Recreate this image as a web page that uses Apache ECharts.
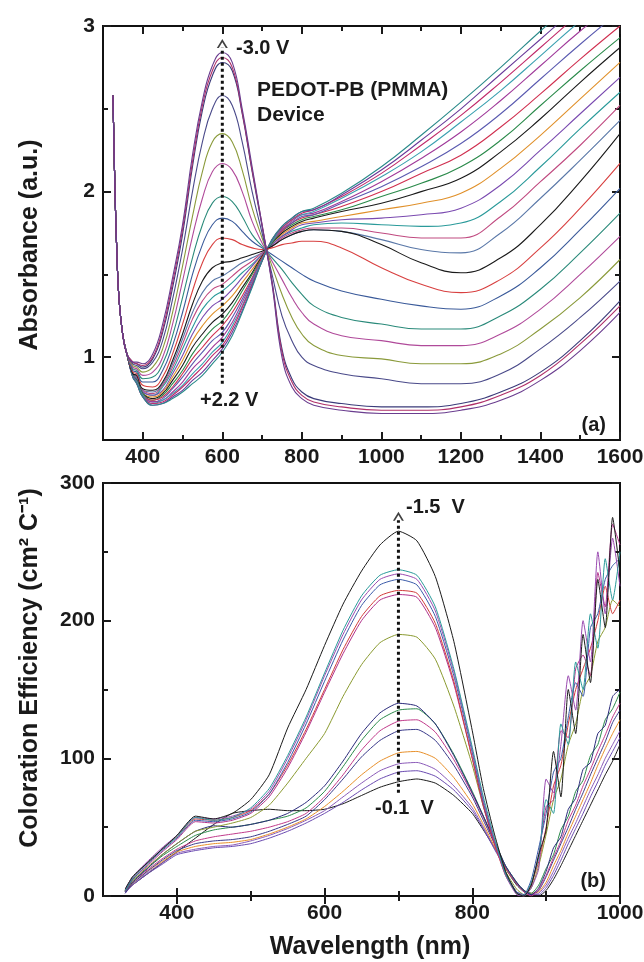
<!DOCTYPE html>
<html><head><meta charset="utf-8">
<script src="https://cdn.jsdelivr.net/npm/echarts@6.0.0/dist/echarts.min.js"></script>
<style>html,body{margin:0;padding:0;background:#fff}#c{width:644px;height:962px}</style>
</head><body><div id="c"></div>
<script>
// ---------- (a) Absorbance ----------
const WL_TOP_HEAD = [325, 330, 335, 340, 350, 360];
const ABS_HEAD = [2.58, 2.02, 1.62, 1.36, 1.13, 1.02];
const WL_TOP = [375, 385, 400, 425, 450, 475, 500, 525, 550, 575, 600, 625, 650, 675, 700, 725, 750, 775, 800, 830, 900, 1000, 1100, 1200, 1300, 1400, 1500, 1600];
const ABS_A1 = [0.97,0.97,0.96,1.02,1.20,1.48,1.80,2.22,2.55,2.76,2.84,2.78,2.50,2.15,1.80,1.44,1.00,0.82,0.75,0.71,0.68,0.66,0.66,0.68,0.74,0.86,1.04,1.27];
const ABS_A2 = [0.97,0.96,0.95,1.00,1.17,1.45,1.77,2.18,2.52,2.73,2.81,2.75,2.48,2.13,1.80,1.45,1.03,0.85,0.77,0.73,0.70,0.68,0.68,0.70,0.77,0.89,1.08,1.31];
const ABS_A3 = [0.97,0.96,0.94,0.99,1.15,1.42,1.74,2.15,2.49,2.70,2.78,2.73,2.47,2.12,1.79,1.46,1.05,0.87,0.79,0.75,0.72,0.70,0.70,0.72,0.79,0.91,1.10,1.34];
const ABS_B1 = [0.96,0.95,0.93,0.97,1.10,1.35,1.65,2.00,2.30,2.50,2.58,2.52,2.30,2.00,1.75,1.50,1.25,1.10,1.00,0.95,0.90,0.87,0.84,0.84,0.90,1.05,1.24,1.46];
const ABS_B2 = [0.95,0.94,0.91,0.94,1.05,1.27,1.55,1.85,2.12,2.30,2.35,2.30,2.13,1.90,1.72,1.55,1.38,1.24,1.14,1.07,1.01,0.99,0.96,0.96,1.02,1.17,1.36,1.59];
const ABS_B3 = [0.94,0.93,0.89,0.91,1.00,1.20,1.46,1.73,1.96,2.12,2.17,2.13,2.00,1.82,1.69,1.58,1.47,1.36,1.27,1.20,1.13,1.10,1.07,1.07,1.14,1.29,1.50,1.73];
const ABS_B4 = [0.93,0.92,0.87,0.88,0.96,1.13,1.36,1.60,1.80,1.93,1.97,1.94,1.85,1.74,1.67,1.60,1.53,1.45,1.38,1.31,1.24,1.20,1.17,1.17,1.25,1.41,1.63,1.87];
const ABS_B5 = [0.92,0.91,0.85,0.85,0.92,1.07,1.27,1.50,1.68,1.80,1.84,1.82,1.76,1.70,1.66,1.62,1.58,1.54,1.50,1.46,1.40,1.35,1.31,1.29,1.37,1.54,1.77,2.02];
const ABS_B6 = [0.91,0.90,0.83,0.82,0.88,1.02,1.20,1.40,1.57,1.68,1.72,1.71,1.68,1.66,1.65,1.66,1.68,1.69,1.70,1.70,1.66,1.54,1.44,1.39,1.47,1.66,1.90,2.17];
const ABS_B7 = [0.90,0.89,0.81,0.80,0.85,0.98,1.14,1.32,1.46,1.54,1.57,1.58,1.60,1.62,1.64,1.67,1.71,1.74,1.76,1.77,1.76,1.68,1.57,1.51,1.60,1.80,2.06,2.35];
const ABS_C1 = [0.90,0.88,0.80,0.79,0.84,0.96,1.11,1.27,1.39,1.46,1.49,1.53,1.57,1.60,1.63,1.67,1.71,1.74,1.76,1.77,1.76,1.71,1.65,1.63,1.75,1.96,2.19,2.43];
const ABS_C2 = [0.90,0.88,0.80,0.78,0.83,0.94,1.08,1.23,1.34,1.41,1.44,1.49,1.54,1.58,1.63,1.67,1.72,1.75,1.77,1.78,1.78,1.75,1.72,1.72,1.85,2.06,2.28,2.52];
const ABS_C3 = [0.90,0.87,0.79,0.77,0.82,0.92,1.05,1.18,1.29,1.36,1.40,1.45,1.51,1.56,1.62,1.68,1.73,1.76,1.78,1.80,1.81,1.80,1.79,1.81,1.94,2.15,2.38,2.60];
const ABS_C4 = [0.89,0.87,0.79,0.77,0.80,0.90,1.01,1.14,1.24,1.31,1.35,1.41,1.48,1.55,1.62,1.68,1.73,1.77,1.80,1.81,1.83,1.84,1.86,1.90,2.04,2.25,2.47,2.69];
const ABS_C5 = [0.89,0.86,0.78,0.76,0.79,0.88,0.98,1.10,1.19,1.26,1.31,1.37,1.45,1.53,1.61,1.69,1.74,1.78,1.81,1.82,1.85,1.89,1.93,1.99,2.14,2.34,2.56,2.78];
const ABS_C6 = [0.89,0.86,0.78,0.75,0.78,0.86,0.95,1.06,1.14,1.21,1.26,1.33,1.42,1.51,1.61,1.69,1.75,1.79,1.82,1.84,1.88,1.93,2.00,2.08,2.24,2.44,2.66,2.87];
const ABS_C7 = [0.89,0.86,0.78,0.74,0.77,0.84,0.92,1.02,1.10,1.17,1.22,1.30,1.40,1.50,1.60,1.69,1.76,1.80,1.83,1.85,1.89,1.97,2.05,2.15,2.31,2.52,2.73,2.93];
const ABS_C8 = [0.89,0.85,0.77,0.74,0.76,0.82,0.90,0.99,1.06,1.13,1.19,1.27,1.37,1.48,1.60,1.70,1.76,1.81,1.84,1.86,1.91,2.00,2.11,2.22,2.39,2.59,2.80,3.00];
const ABS_C9 = [0.89,0.85,0.77,0.73,0.75,0.81,0.88,0.96,1.03,1.10,1.15,1.24,1.35,1.47,1.59,1.70,1.77,1.81,1.85,1.86,1.93,2.03,2.15,2.29,2.47,2.68,2.89,3.09];
const ABS_C10 = [0.88,0.85,0.77,0.73,0.74,0.79,0.85,0.93,0.99,1.06,1.12,1.21,1.33,1.46,1.59,1.70,1.77,1.82,1.86,1.87,1.94,2.06,2.20,2.36,2.55,2.76,2.97,3.16];
const ABS_C11 = [0.88,0.85,0.77,0.72,0.74,0.78,0.83,0.90,0.96,1.03,1.09,1.19,1.31,1.45,1.59,1.70,1.78,1.83,1.86,1.88,1.96,2.09,2.24,2.42,2.61,2.82,3.03,3.22];
const ABS_C12 = [0.88,0.84,0.76,0.72,0.73,0.77,0.82,0.88,0.94,1.01,1.07,1.17,1.30,1.44,1.58,1.71,1.78,1.83,1.87,1.89,1.97,2.11,2.28,2.46,2.66,2.87,3.08,3.28];
const ABS_C13 = [0.88,0.84,0.76,0.71,0.72,0.76,0.80,0.86,0.91,0.98,1.05,1.15,1.28,1.43,1.58,1.71,1.79,1.84,1.88,1.89,1.98,2.13,2.31,2.50,2.71,2.92,3.13,3.33];
const ABS_C14 = [0.88,0.84,0.76,0.71,0.72,0.75,0.79,0.84,0.89,0.96,1.03,1.13,1.27,1.42,1.58,1.71,1.79,1.84,1.88,1.90,1.99,2.15,2.34,2.54,2.75,2.97,3.18,3.38];

const TOP_X_MAJOR = [400, 600, 800, 1000, 1200, 1400, 1600];
const TOP_X_MINOR = [500, 700, 900, 1100, 1300, 1500];
const TOP_Y_MAJOR = [1, 2, 3];
const TOP_Y_MINOR = [1.5, 2.5];

// ---------- (b) Coloration efficiency ----------
const WL_CE = [330,340,360,380,400,425,450,475,500,525,550,575,600,625,650,675,700,725,750,775,800,815,830,845,860,870,880,890,900,910,920,930,940,950,960,970,980,990,1000];
const CE_K1 = [5,14,24,34,44,58,56,60,70,88,122,150,182,212,236,255,265,258,232,185,120,78,45,18,2,0,8,30,48,105,72,150,118,190,155,230,195,275,235];
const CE_K2 = [4,13,24,34,43,57,55,57,64,78,102,130,162,193,218,233,237,233,210,165,108,72,42,16,2,0,10,28,70,60,125,110,170,150,205,180,245,215,250];
const CE_K3 = [5,14,25,35,44,57,56,58,63,76,100,128,160,190,215,230,234,230,207,163,106,70,40,15,1,0,6,20,85,75,110,160,135,200,170,250,205,260,225];
const CE_K4 = [3,12,23,33,42,55,54,56,61,74,97,125,156,186,211,226,230,226,203,160,104,68,40,17,3,1,12,35,60,90,100,130,155,145,195,205,230,240,245];
const CE_K5 = [4,13,24,34,43,56,55,57,62,74,95,121,150,179,203,218,222,220,198,156,100,66,38,15,2,0,9,25,50,80,95,125,150,165,180,200,225,205,215];
const CE_K6 = [3,12,22,32,41,54,53,55,60,72,93,119,148,176,200,215,219,217,195,154,100,65,38,16,3,0,8,30,65,70,120,115,165,175,160,235,210,270,255];
const CE_K7 = [3,11,21,30,38,47,50,53,57,66,82,100,118,145,168,184,190,188,172,138,95,65,40,18,5,1,6,22,45,70,85,110,125,150,160,185,195,215,210];
const CE_K8 = [3,10,20,30,38,47,51,50,52,55,60,68,80,98,118,133,140,138,125,102,75,58,40,22,10,4,1,6,18,35,43,63,71,92,97,118,124,145,150];
const CE_K9 = [4,11,20,29,36,44,48,50,52,55,58,64,76,94,113,128,135,136,125,103,76,58,40,22,10,4,2,8,20,30,48,58,76,84,102,110,128,136,148];
const CE_K10 = [3,10,19,27,34,40,43,45,47,50,54,60,72,88,106,120,127,128,119,99,74,57,39,21,9,3,0,5,15,28,40,55,66,80,92,105,117,130,140];
const CE_K11 = [2,9,18,26,33,38,40,41,43,47,52,58,70,85,101,113,120,121,113,95,72,55,38,21,9,4,1,4,14,26,38,50,63,75,88,100,112,126,135];
const CE_K12 = [3,9,18,25,32,36,38,39,41,45,50,56,65,76,88,98,104,105,100,86,67,52,36,20,9,4,2,3,10,22,33,46,58,70,82,95,107,118,128];
const CE_K13 = [2,8,17,24,31,34,36,37,40,44,49,55,62,72,82,91,96,97,92,80,64,50,35,20,9,4,1,2,8,18,30,42,53,65,77,88,100,110,120];
const CE_K14 = [3,8,16,23,30,33,35,36,38,42,47,53,60,68,77,85,90,91,87,77,62,49,34,20,9,4,1,1,6,15,26,38,49,60,72,83,95,105,115];
const CE_K15 = [3,8,16,24,32,42,52,60,62,63,62,62,63,67,73,79,83,85,82,73,60,48,35,20,8,3,0,0,4,12,22,33,44,55,66,77,88,98,110];

const BOT_X_MAJOR = [400, 600, 800, 1000];
const BOT_X_MINOR = [500, 700, 900];
const BOT_Y_MAJOR = [0, 100, 200, 300];
const BOT_Y_MINOR = [50, 150, 250];

// annotation arrows (wavelength, from, to)
const ARROW_A = [600, 0.84, 2.87];
const ARROW_B = [700, 75, 273];

// ---------- styling ----------
const TOP_SET = [ABS_C1,ABS_C2,ABS_C3,ABS_C4,ABS_C5,ABS_C6,ABS_C7,ABS_C8,ABS_C9,ABS_C10,ABS_C11,ABS_C12,ABS_C13,ABS_C14,
                 ABS_B7,ABS_B6,ABS_B5,ABS_B4,ABS_B3,ABS_B2,ABS_B1,ABS_A3,ABS_A2,ABS_A1];
const TOP_COLORS = ['#5a78a8','#c04a80','#2a9a9a','#7a4ab0','#e0902a','#1a1a1a','#2a8a4a','#d03050','#5a5ab0','#a03a9a','#3aa0b0','#c02a6a','#6a3a9a','#2a8a8a',
                    '#1a1a1a','#d84040','#3a5a9a','#2a8a7a','#b04a9a','#8a9a3a','#4a4a8a','#3b3b7a','#b0306a','#6a3d8f'];
const BOT_SET = [CE_K15,CE_K14,CE_K13,CE_K12,CE_K11,CE_K10,CE_K9,CE_K8,CE_K7,CE_K6,CE_K5,CE_K4,CE_K3,CE_K2,CE_K1];
const BOT_COLORS = ['#1a1a1a','#6a4ab0','#8a5ab8','#e8902a','#3a3a8a','#c03a8a','#2a8a4a','#2a2a7a','#8a9a30','#b0308a','#d03a3a','#3a5aa8','#9a4ab0','#2a9a9a','#1a1a1a'];

const FF = '"Liberation Sans", Arial, Helvetica, sans-serif';
const INK = '#1a1a1a';

function axes(dim, g, min, max, majors, minors, posA, posB) {
  const base = {type:'value', gridIndex:g, min:min, max:max, axisLine:{show:false}, splitLine:{show:false}};
  const tick = (vals, len) => ({show:true, inside:true, length:len, customValues:vals, lineStyle:{color:INK, width:2}});
  const lbl = {show:true, customValues:majors, margin: dim==='x'?7:8, fontSize:21, fontWeight:'bold', fontFamily:FF, color:INK,
               formatter: v => String(v)};
  const off = {show:false};
  return [
    Object.assign({}, base, {position:posA, axisTick:tick(majors, 8), axisLabel:lbl}),
    Object.assign({}, base, {position:posA, axisTick:tick(minors, 5), axisLabel:off}),
    Object.assign({}, base, {position:posB, axisTick:tick(majors, 8), axisLabel:off}),
    Object.assign({}, base, {position:posB, axisTick:tick(minors, 5), axisLabel:off})
  ];
}

const series = [];
const topX = WL_TOP_HEAD.concat(WL_TOP);
TOP_SET.forEach((vals, i) => {
  const ys = ABS_HEAD.concat(vals);
  series.push({type:'line', xAxisIndex:0, yAxisIndex:0, data: topX.map((w, k) => [w, ys[k]]),
    symbol:'none', smooth:0.45, clip:true, silent:true,
    lineStyle:{color:TOP_COLORS[i], width:1.1}});
});
BOT_SET.forEach((vals, i) => {
  series.push({type:'line', xAxisIndex:4, yAxisIndex:4, data: WL_CE.map((w, k) => [w, vals[k]]),
    symbol:'none', smooth:0.18, clip:true, silent:true,
    lineStyle:{color:BOT_COLORS[i], width:1}});
});
// dotted guide lines with chevron heads
const chevron = 'path://M0,10 L5,0 L10,10 L8.2,10 L5,3.6 L1.8,10 Z';
[[ARROW_A, 0], [ARROW_B, 4]].forEach(([a, ax]) => {
  series.push({type:'line', xAxisIndex:ax, yAxisIndex:ax, data:[[a[0], a[1]], [a[0], a[2]]], symbol:'none', silent:true, z:5,
    lineStyle:{color:'#111', width:3, type:[3,3], cap:'butt'}});
  series.push({type:'scatter', xAxisIndex:ax, yAxisIndex:ax, data:[[a[0], a[2]]], symbol:chevron, symbolSize:[11,9], symbolOffset:[0,-4], silent:true, z:6,
    itemStyle:{color:'#111'}});
});

function txt(x, y, s, size, align, rot) {
  return {type:'text', x:x, y:y, rotation:rot||0, z:100,
    style:{text:s, font:'bold ' + size + 'px ' + FF, fill:INK, align:align||'left', verticalAlign:'middle'}};
}

const option = {
  animation:false,
  backgroundColor:'#ffffff',
  grid:[
    {left:103, top:26, width:517, height:414, show:true, borderColor:'#111', borderWidth:2, backgroundColor:'transparent', containLabel:false, outerBoundsMode:'none'},
    {left:103, top:483, width:517, height:413, show:true, borderColor:'#111', borderWidth:2, backgroundColor:'transparent', containLabel:false, outerBoundsMode:'none'}
  ],
  xAxis: axes('x', 0, 300, 1600, TOP_X_MAJOR, TOP_X_MINOR, 'bottom', 'top')
          .concat(axes('x', 1, 300, 1000, BOT_X_MAJOR, BOT_X_MINOR, 'bottom', 'top')),
  yAxis: axes('y', 0, 0.5, 3, TOP_Y_MAJOR, TOP_Y_MINOR, 'left', 'right')
          .concat(axes('y', 1, 0, 300, BOT_Y_MAJOR, BOT_Y_MINOR, 'left', 'right')),
  series: series,
  graphic: [
    txt(236, 48, '-3.0 V', 20),
    txt(257, 90, 'PEDOT-PB (PMMA)', 21),
    txt(257, 115, 'Device', 21),
    txt(200, 400, '+2.2 V', 20),
    txt(606, 425, '(a)', 20, 'right'),
    txt(406, 507, '-1.5  V', 20),
    txt(375, 808, '-0.1  V', 20),
    txt(606, 881, '(b)', 20, 'right'),
    txt(30, 245, 'Absorbance (a.u.)', 25, 'center', Math.PI/2),
    txt(30, 668, 'Coloration Efficiency (cm\u00b2 C\u207b\u00b9)', 25, 'center', Math.PI/2),
    txt(370, 947, 'Wavelength (nm)', 25, 'center')
  ]
};
const chart = echarts.init(document.getElementById('c'), null, {renderer:'canvas'});
chart.setOption(option);
</script></body></html>
